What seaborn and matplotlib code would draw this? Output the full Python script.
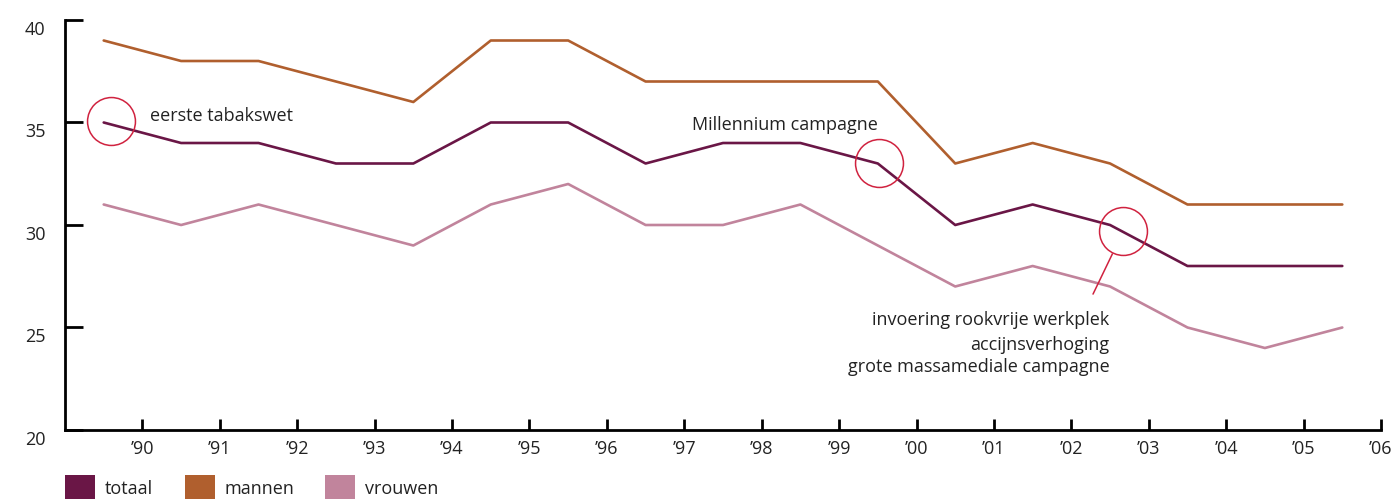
import matplotlib
matplotlib.use("Agg")
import matplotlib.pyplot as plt
import matplotlib.transforms as mtransforms
from matplotlib.patches import Rectangle
import seaborn as sns
import pandas as pd

years = list(range(1989, 2006))
totaal = [35, 34, 34, 33, 33, 35, 35, 33, 34, 34, 33, 30, 31, 30, 28, 28, 28]
mannen = [39, 38, 38, 37, 36, 39, 39, 37, 37, 37, 37, 33, 34, 33, 31, 31, 31]
vrouwen = [31, 30, 31, 30, 29, 31, 32, 30, 30, 31, 29, 27, 28, 27, 25, 24, 25]
series_names = ["totaal", "mannen", "vrouwen"]
colors = ["#6a1646", "#b05f2e", "#c1849c"]
tick_years = list(range(1990, 2007))
tick_labels = ["\u2019" + str(y)[2:] for y in tick_years]
y_ticks = [20, 25, 30, 35, 40]

sns.set_theme(style="white")
plt.rcParams["font.family"] = ["Open Sans", "DejaVu Sans"]

rows = []
for name, vals in zip(series_names, [totaal, mannen, vrouwen]):
    for y, v in zip(years, vals):
        rows.append({"jaar": y + 0.5, "waarde": v, "serie": name})
df = pd.DataFrame(rows)

fig = plt.figure(figsize=(13.92, 4.99), dpi=100)
ax = fig.add_axes([65 / 1392, 69 / 499, (1381 - 65) / 1392, 410 / 499])
sns.lineplot(data=df, x="jaar", y="waarde", hue="serie", palette=colors,
             hue_order=series_names, linewidth=1.9, ax=ax, legend=False)

ax.set_xlim(1989, 2006)
ax.set_ylim(20, 40)
ax.set_xlabel("")
ax.set_ylabel("")
for s in ["top", "right"]:
    ax.spines[s].set_visible(False)
for s in ["left", "bottom"]:
    ax.spines[s].set_linewidth(2.0)
    ax.spines[s].set_color("black")

ax.set_xticks(tick_years)
ax.set_xticklabels(tick_labels, fontsize=13, color="#222222")
ax.set_yticks(y_ticks)
ax.set_yticklabels([str(v) for v in y_ticks], fontsize=13, color="#222222")
ax.tick_params(axis="x", bottom=True, direction="in", length=8, width=2, pad=6, color="black")
ax.tick_params(axis="y", left=True, direction="in", length=13, width=2, pad=14, color="black")
for lab in ax.get_yticklabels():
    lab.set_transform(lab.get_transform() + mtransforms.ScaledTranslation(0, -8 / 100, fig.dpi_scale_trans))
for lab in ax.get_xticklabels():
    lab.set_transform(lab.get_transform() + mtransforms.ScaledTranslation(0, -2 / 100, fig.dpi_scale_trans))

red = "#d0223f"
circ_x = [1989.59, 1999.52, 2002.67]
circ_y = [35.05, 33.02, 29.71]
ax.plot(circ_x, circ_y, linestyle="none", marker="o", markersize=34.5,
        markerfacecolor="none", markeredgecolor=red, markeredgewidth=1.1, clip_on=False)
ax.plot([2002.53, 2002.28], [28.59, 26.63], color=red, linewidth=1.1)

tc = "#222222"
ax.text(1990.10, 35.32, "eerste tabakswet", fontsize=13, color=tc, ha="left", va="center")
ax.text(1998.30, 34.88, "Millennium campagne", fontsize=13, color=tc, ha="center", va="center")
ax.text(2002.49, 25.37, "invoering rookvrije werkplek", fontsize=13, color=tc, ha="right", va="center")
ax.text(2002.49, 24.15, "accijnsverhoging", fontsize=13, color=tc, ha="right", va="center")
ax.text(2002.49, 23.07, "grote massamediale campagne", fontsize=13, color=tc, ha="right", va="center")

# legend
leg_x = [65, 185, 325]
for lx, name, c in zip(leg_x, series_names, colors):
    fig.patches.append(Rectangle((lx / 1392, 0), 30 / 1392, 24 / 499,
                                 transform=fig.transFigure, facecolor=c, edgecolor="none"))
    fig.text((lx + 40) / 1392, 10 / 499, name, fontsize=13, color=tc, ha="left", va="center")

fig.savefig("out.png", dpi=100)
